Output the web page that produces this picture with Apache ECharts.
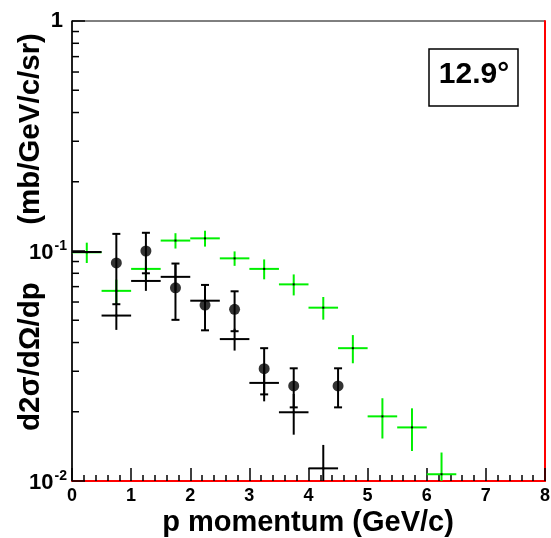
<!DOCTYPE html>
<html>
<head>
<meta charset="utf-8">
<script src="https://cdn.jsdelivr.net/npm/echarts@6/dist/echarts.min.js"></script>
<style>html,body{margin:0;padding:0;background:#fff;}#c{width:551px;height:538px;}</style>
</head>
<body>
<div id="c"></div>
<script>
// ---- data ----
const xCircle = [0.75, 1.25, 1.75, 2.25, 2.75, 3.25, 3.75, 4.5];
const yCircle = [0.0887, 0.100, 0.0692, 0.0582, 0.0558, 0.0308, 0.0259, 0.0259];
const eCircle = [0.030, 0.020, 0.019, 0.013, 0.011, 0.007, 0.005, 0.005];

const xBlack = [0.25, 0.75, 1.25, 1.75, 2.25, 2.75, 3.25, 3.75, 4.25];
const yBlack = [0.0990, 0.0524, 0.0741, 0.0772, 0.0608, 0.0414, 0.0267, 0.0199, 0.01135];
const eBlack = [0.001, 0.007, 0.007, 0.010, 0.008, 0.0045, 0.0045, 0.004, 0.003];

const xGreen = [0.25, 0.75, 1.25, 1.75, 2.25, 2.75, 3.25, 3.75, 4.25, 4.75, 5.25, 5.75, 6.25];
const yGreen = [0.0987, 0.0671, 0.0836, 0.111, 0.1135, 0.0929, 0.0836, 0.0716, 0.0567, 0.0378, 0.0191, 0.0171, 0.0107];
const eGreen = [0.010, 0.008, 0.008, 0.0085, 0.009, 0.0067, 0.0083, 0.0075, 0.0064, 0.0053, 0.0038, 0.0036, 0.0026];

const binHalfWidth = 0.25;
const yMinorTicks = [0.02,0.03,0.04,0.05,0.06,0.07,0.08,0.09,0.2,0.3,0.4,0.5,0.6,0.7,0.8,0.9];
const xTitle = 'p momentum (GeV/c)';
const yTitle = 'd2σ/dΩ/dp       (mb/GeV/c/sr)';
const boxLabel = '12.9°';

const FONT = '"Liberation Sans", Arial, sans-serif';

function crossRender(color) {
  return function (params, api) {
    const x = api.value(0), y = api.value(1), e = api.value(2);
    const pL = api.coord([x - binHalfWidth, y]);
    const pR = api.coord([x + binHalfWidth, y]);
    const pT = api.coord([x, y + e]);
    const pB = api.coord([x, Math.max(y - e, 1e-5)]);
    const pC = api.coord([x, y]);
    const st = { stroke: color, lineWidth: 2 };
    return { type: 'group', children: [
      { type: 'line', shape: { x1: pL[0], y1: pL[1], x2: pR[0], y2: pR[1] }, style: st },
      { type: 'line', shape: { x1: pT[0], y1: pT[1], x2: pB[0], y2: pB[1] }, style: st },
      { type: 'rect', shape: { x: pC[0] - 1, y: pC[1] - 1, width: 2, height: 2 }, style: { fill: '#000' } }
    ]};
  };
}
function errRender(params, api) {
  const x = api.value(0), y = api.value(1), e = api.value(2);
  const pT = api.coord([x, y + e]);
  const pB = api.coord([x, Math.max(y - e, 1e-5)]);
  const st = { stroke: '#000', lineWidth: 2 };
  const c = 4;
  return { type: 'group', children: [
    { type: 'line', shape: { x1: pT[0], y1: pT[1], x2: pB[0], y2: pB[1] }, style: st },
    { type: 'line', shape: { x1: pT[0] - c, y1: pT[1], x2: pT[0] + c, y2: pT[1] }, style: st },
    { type: 'line', shape: { x1: pB[0] - c, y1: pB[1], x2: pB[0] + c, y2: pB[1] }, style: st }
  ]};
}
function minorTickRender(params, api) {
  const p = api.coord([0, api.value(1)]);
  return { type: 'line', shape: { x1: p[0], y1: p[1], x2: p[0] + 7, y2: p[1] }, style: { stroke: '#000', lineWidth: 1.5 } };
}

const chart = echarts.init(document.getElementById('c'), null, { renderer: 'canvas' });
chart.setOption({
  animation: false,
  backgroundColor: '#fff',
  grid: { left: 72, right: 6, top: 21, bottom: 57, containLabel: false, outerBoundsMode: 'none',
          show: true, borderColor: '#000', borderWidth: 1, backgroundColor: 'transparent' },
  xAxis: {
    type: 'value', min: 0, max: 8, interval: 1,
    axisLine: { show: true, onZero: false, lineStyle: { color: '#ff0000', width: 2 } },
    axisTick: { show: true, inside: true, length: 13, lineStyle: { color: '#000', width: 1.5 } },
    minorTick: { show: true, splitNumber: 5, length: 6, lineStyle: { color: '#000', width: 1.5 } },
    axisLabel: { margin: 6, fontFamily: FONT, fontWeight: 'bold', fontSize: 18, color: '#000' },
    splitLine: { show: false }
  },
  yAxis: [{
    type: 'log', logBase: 10, min: 0.01, max: 1,
    axisLine: { show: true, lineStyle: { color: '#000', width: 1.5 } },
    axisTick: { show: true, inside: true, length: 13, lineStyle: { color: '#000', width: 1.5 } },
    axisLabel: {
      margin: 5, color: '#000',
      formatter: function (v) {
        const e = Math.round(Math.log10(v));
        return e === 0 ? '{o|1}' : '{b|10}{s|' + e + '}';
      },
      rich: {
        o: { fontFamily: FONT, fontWeight: 'bold', fontSize: 22, color: '#000', padding: [0, 4, 0, 0] },
        b: { fontFamily: FONT, fontWeight: 'bold', fontSize: 22, color: '#000', padding: [3, 0, 0, 0] },
        s: { fontFamily: FONT, fontWeight: 'bold', fontSize: 14, color: '#000', padding: [0, 0, 9, 1] }
      }
    },
    splitLine: { show: false }
  }, {
    type: 'log', logBase: 10, min: 0.01, max: 1, position: 'right',
    axisLine: { show: true, lineStyle: { color: '#ff0000', width: 2 } },
    axisTick: { show: false }, axisLabel: { show: false }, splitLine: { show: false }
  }],
  graphic: [{
    type: 'rect', shape: { x: 429, y: 49, width: 89, height: 57 },
    style: { fill: '#fff', stroke: '#000', lineWidth: 1.5 }, z: 100
  }, {
    type: 'text', x: 474, y: 75, z: 101,
    style: { text: boxLabel, fontFamily: FONT, fontWeight: 'bold', fontSize: 30, fill: '#000', align: 'center', verticalAlign: 'middle' }
  }, {
    type: 'text', x: 308, y: 523, z: 101,
    style: { text: xTitle, fontFamily: FONT, fontWeight: 'bold', fontSize: 29, fill: '#000', align: 'center', verticalAlign: 'middle' }
  }, {
    type: 'text', x: 31, y: 232, rotation: Math.PI / 2, z: 101,
    style: { text: yTitle, fontFamily: FONT, fontWeight: 'bold', fontSize: 29.5, fill: '#000', align: 'center', verticalAlign: 'middle' }
  }],
  series: [{
    type: 'custom', name: 'yminor', renderItem: minorTickRender,
    data: yMinorTicks.map(v => [0, v]), encode: { x: 0, y: 1 }, silent: true, z: 3, clip: false
  }, {
    type: 'custom', name: 'green', renderItem: crossRender('#00f000'),
    data: xGreen.map((x, i) => [x, yGreen[i], eGreen[i]]), encode: { x: 0, y: 1 }, clip: true, z: 4
  }, {
    type: 'custom', name: 'black', renderItem: crossRender('#000'),
    data: xBlack.map((x, i) => [x, yBlack[i], eBlack[i]]), encode: { x: 0, y: 1 }, clip: true, z: 5
  }, {
    type: 'custom', name: 'circleErr', renderItem: errRender,
    data: xCircle.map((x, i) => [x, yCircle[i], eCircle[i]]), encode: { x: 0, y: 1 }, clip: true, z: 6
  }, {
    type: 'scatter', name: 'circles', symbol: 'circle', symbolSize: 11,
    itemStyle: { color: '#000' },
    data: xCircle.map((x, i) => [x, yCircle[i]]), z: 7
  }]
});
</script>
</body>
</html>
